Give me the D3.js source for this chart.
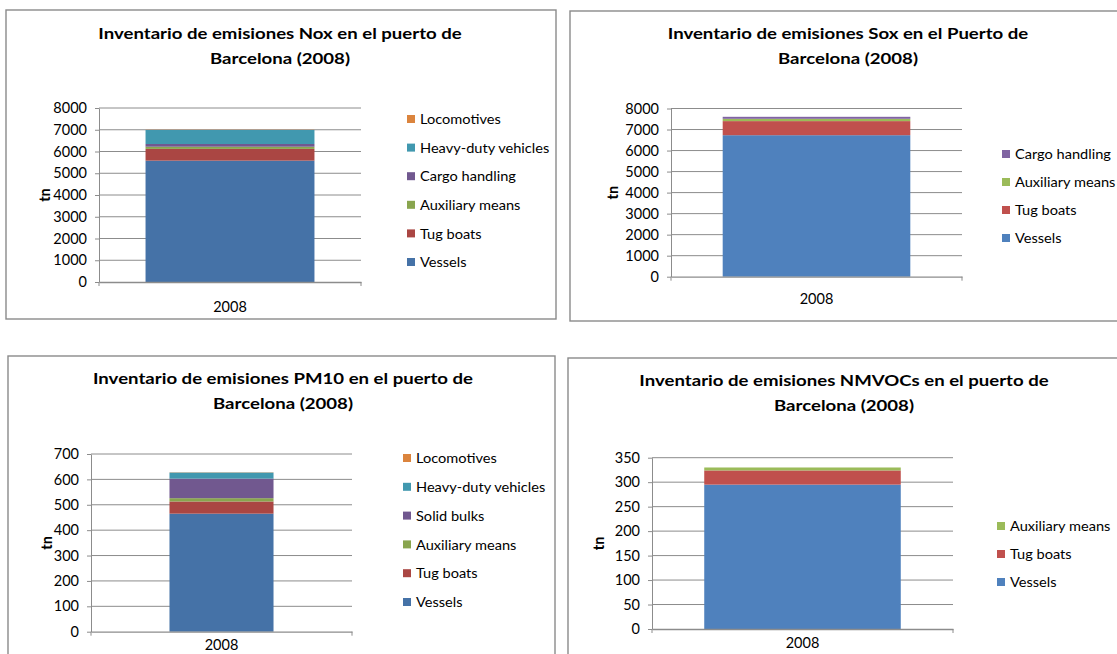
<!DOCTYPE html>
<html>
<head>
<meta charset="utf-8">
<script src="https://cdn.jsdelivr.net/npm/d3@7"></script>
<style>
  body { margin: 0; background: #fff; }
  svg { display: block; font-family: Lato, "Open Sans", sans-serif; }
</style>
</head>
<body>
<svg id="chart" width="1117" height="654"></svg>
<script>
// data (tn, year 2008)
const years = ["2008"];

const noxSeries = ["Vessels", "Tug boats", "Auxiliary means", "Cargo handling", "Heavy-duty vehicles", "Locomotives"];
const noxValues = [5580, 540, 100, 125, 645, 10];
const noxTicks = [0, 1000, 2000, 3000, 4000, 5000, 6000, 7000, 8000];

const soxSeries = ["Vessels", "Tug boats", "Auxiliary means", "Cargo handling"];
const soxValues = [6730, 670, 110, 95];
const soxTicks = [0, 1000, 2000, 3000, 4000, 5000, 6000, 7000, 8000];

const pmSeries = ["Vessels", "Tug boats", "Auxiliary means", "Solid bulks", "Heavy-duty vehicles", "Locomotives"];
const pmValues = [465, 48, 13, 77, 24, 1];
const pmTicks = [0, 100, 200, 300, 400, 500, 600, 700];

const vocSeries = ["Vessels", "Tug boats", "Auxiliary means"];
const vocValues = [295, 29, 6];
const vocTicks = [0, 50, 100, 150, 200, 250, 300, 350];

// two office palettes: left charts use the darker one
const darkColors = ["#4572A7", "#AA4643", "#89A54E", "#71588F", "#4198AF", "#DB843D"];
const lightColors = ["#4F81BD", "#C0504D", "#9BBB59", "#8064A2", "#4BACC6", "#F79646"];

const svg = d3.select("#chart");

function drawPanel(p) {
  const g = svg.append("g");

  // frame
  g.append("rect")
    .attr("x", p.box[0]).attr("y", p.box[1])
    .attr("width", p.box[2]).attr("height", p.box[3])
    .attr("fill", "#fff")
    .attr("stroke", "#8a8a8a")
    .attr("stroke-width", 1.4);

  // title, two lines (source text is a stretched Calibri, so widen it a bit)
  p.title.forEach((t, i) => {
    g.append("text")
      .attr("transform", `translate(${p.titleX},${p.titleY + i * 25}) scale(1.2,1)`)
      .attr("text-anchor", "middle")
      .attr("dominant-baseline", "central")
      .attr("font-weight", "bold")
      .attr("font-size", 15.5)
      .attr("fill", "#000")
      .text(t);
  });

  const x = d3.scaleBand()
    .domain(years)
    .range([p.left, p.right])
    .padding(p.pad);

  const y = d3.scaleLinear()
    .domain([0, d3.max(p.ticks)])
    .range([p.bottom, p.top]);

  // gridlines
  g.append("g")
    .selectAll("line")
    .data(p.ticks.slice(1))
    .enter().append("line")
    .attr("x1", p.left).attr("x2", p.right)
    .attr("y1", d => y(d)).attr("y2", d => y(d))
    .attr("stroke", "#8c8c8c")
    .attr("stroke-width", 1);

  // stacked bar
  const stack = d3.stack().keys(p.series.map((s, i) => i));
  const row = {};
  p.values.forEach((v, i) => { row[i] = v; });
  const layers = stack([row]);

  g.append("g")
    .selectAll("rect")
    .data(layers)
    .enter().append("rect")
    .attr("x", x(years[0]))
    .attr("width", x.bandwidth())
    .attr("y", d => y(d[0][1]))
    .attr("height", d => y(d[0][0]) - y(d[0][1]))
    .attr("fill", (d, i) => p.colors[i]);

  // y axis
  const yAxis = g.append("g")
    .attr("transform", `translate(${p.left},0)`)
    .call(d3.axisLeft(y).tickValues(p.ticks).tickSizeInner(4).tickSizeOuter(0).tickPadding(8).tickFormat(d3.format("d")));
  yAxis.select(".domain").attr("stroke", "#8c8c8c");
  yAxis.selectAll(".tick line").attr("stroke", "#8c8c8c");
  yAxis.selectAll(".tick text")
    .attr("font-family", "Lato, sans-serif")
    .attr("font-size", 14.5)
    .attr("fill", "#000");

  // x axis
  const xAxis = g.append("g")
    .attr("transform", `translate(0,${p.bottom})`)
    .call(d3.axisBottom(x).tickSize(0).tickPadding(p.xLabelGap));
  xAxis.select(".domain").attr("stroke", "#8c8c8c").attr("stroke-width", 1.3);
  xAxis.selectAll(".tick text")
    .attr("font-family", "Lato, sans-serif")
    .attr("font-size", 14.5)
    .attr("fill", "#000");
  // end ticks of the category axis
  g.append("g")
    .selectAll("line")
    .data([p.left, p.right])
    .enter().append("line")
    .attr("x1", d => d).attr("x2", d => d)
    .attr("y1", p.bottom).attr("y2", p.bottom + 4)
    .attr("stroke", "#8c8c8c");

  // axis title
  g.append("text")
    .attr("transform", `translate(${p.yTitleX},${(p.top + p.bottom) / 2}) rotate(-90)`)
    .attr("text-anchor", "middle")
    .attr("dominant-baseline", "central")
    .attr("font-weight", "bold")
    .attr("font-size", 14.5)
    .text("tn");

  // legend, top entry is the last series
  const order = p.series.map((s, i) => i).reverse();
  const leg = g.append("g")
    .selectAll("g")
    .data(order)
    .enter().append("g")
    .attr("transform", (d, k) => `translate(${p.legX},${p.legY + k * p.legStep})`);
  leg.append("rect")
    .attr("x", 0).attr("y", -4)
    .attr("width", 8).attr("height", 8)
    .attr("fill", d => p.colors[d]);
  leg.append("text")
    .attr("transform", "translate(13,0) scale(1.08,1)")
    .attr("dominant-baseline", "central")
    .attr("font-size", 13.5)
    .attr("fill", "#000")
    .text(d => p.series[d]);
}

drawPanel({
  box: [6, 10, 550, 309],
  title: ["Inventario de emisiones Nox en el puerto de", "Barcelona (2008)"],
  titleX: 280, titleY: 33,
  series: noxSeries, values: noxValues, ticks: noxTicks, colors: darkColors,
  left: 99, right: 361, top: 108, bottom: 282, pad: 0.216,
  xLabelGap: 20, yTitleX: 44,
  legX: 407, legY: 119, legStep: 28.6
});

drawPanel({
  box: [570, 11, 600, 310],
  title: ["Inventario de emisiones Sox en el Puerto de", "Barcelona (2008)"],
  titleX: 848, titleY: 33,
  series: soxSeries, values: soxValues, ticks: soxTicks, colors: lightColors,
  left: 671, right: 962, top: 108.5, bottom: 276.7, pad: 0.216,
  xLabelGap: 17, yTitleX: 612,
  legX: 1002, legY: 154, legStep: 28
});

drawPanel({
  box: [8, 356, 547, 400],
  title: ["Inventario de emisiones PM10 en el puerto de", "Barcelona (2008)"],
  titleX: 283, titleY: 378,
  series: pmSeries, values: pmValues, ticks: pmTicks, colors: darkColors,
  left: 91, right: 352, top: 454, bottom: 631.7, pad: 0.43,
  xLabelGap: 8, yTitleX: 46,
  legX: 403, legY: 458, legStep: 28.8
});

drawPanel({
  box: [568, 358, 600, 400],
  title: ["Inventario de emisiones NMVOCs en el puerto de", "Barcelona (2008)"],
  titleX: 844, titleY: 380,
  series: vocSeries, values: vocValues, ticks: vocTicks, colors: lightColors,
  left: 652, right: 953, top: 457.7, bottom: 629, pad: 0.21,
  xLabelGap: 9, yTitleX: 598,
  legX: 997, legY: 526, legStep: 28
});
</script>
</body>
</html>
